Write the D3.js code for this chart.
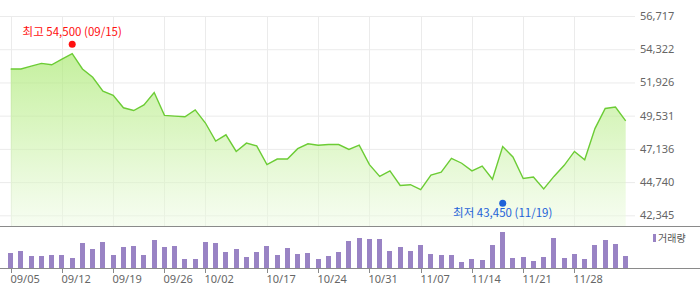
<!DOCTYPE html>
<html><head><meta charset="utf-8">
<script src="https://cdn.jsdelivr.net/npm/d3@7"></script>
<style>
html,body{margin:0;padding:0;background:#fff;}
svg{display:block;font-family:"Noto Sans","Noto Sans CJK KR",sans-serif;}
</style></head>
<body><svg id="c" width="700" height="289"></svg>
<script>
const dates = ["09/05","09/08","09/09","09/10","09/11","09/12","09/15","09/16","09/17","09/18","09/19","09/22","09/23","09/24","09/25","09/26","09/29","09/30","10/01","10/02","10/10","10/13","10/14","10/15","10/16","10/17","10/20","10/21","10/22","10/23","10/24","10/27","10/28","10/29","10/30","10/31","11/03","11/04","11/05","11/06","11/07","11/10","11/11","11/12","11/13","11/14","11/17","11/18","11/19","11/20","11/21","11/24","11/25","11/26","11/27","11/28","12/01","12/02","12/03","12/04","12/05"];
const closes = [52900,52900,53100,53300,53200,53600,54000,52900,52300,51300,51000,50100,49900,50300,51200,49550,49500,49450,49950,49000,47700,48150,46950,47550,47350,46000,46400,46400,47150,47500,47400,47450,47450,47100,47400,46000,45150,45550,44500,44550,44200,45250,45450,46450,46100,45550,45900,44950,47300,46550,45000,45100,44250,45150,45950,46950,46350,48600,50050,50150,49150];
const volumes = [150,170,120,120,130,130,100,250,190,260,130,210,220,130,280,210,220,90,90,260,250,160,190,110,160,220,130,200,140,150,90,120,160,270,300,290,290,170,210,170,230,140,130,130,60,90,80,230,360,100,110,70,110,300,100,140,90,230,280,240,120];
const xTickLabels = ["09/05","09/12","09/19","09/26","10/02","10/17","10/24","10/31","11/07","11/14","11/21","11/28"];
const yTickValues = [56717,54322,51926,49531,47136,44740,42345];
const high = {date:"09/15", value:54500, label:"최고 54,500 (09/15)"};
const low = {date:"11/19", value:43450, label:"최저 43,450 (11/19)"};
const volumeLabel = "거래량";

const svg = d3.select("#c");
const x = d3.scalePoint().domain(dates).range([10.7, 625.7]);
const y = d3.scaleLinear().domain([41574, 56717]).range([226, 16]);
const yv = d3.scaleLinear().domain([0, 400]).range([268, 228]);

// gradient
const defs = svg.append("defs");
const g = defs.append("linearGradient").attr("id","gf").attr("gradientUnits","userSpaceOnUse")
  .attr("x1",0).attr("x2",0).attr("y1",y(56717)).attr("y2",226);
g.append("stop").attr("offset","0").attr("stop-color","#9fe660").attr("stop-opacity",0.75);
g.append("stop").attr("offset","0.55").attr("stop-color","#c4f09c").attr("stop-opacity",0.6);
g.append("stop").attr("offset","1").attr("stop-color","#eefbe3").attr("stop-opacity",0.5);

// horizontal grid
svg.append("g").selectAll("line").data(yTickValues).join("line")
  .attr("x1",0).attr("x2",635).attr("y1",d=>y(d)+0.5).attr("y2",d=>y(d)+0.5)
  .attr("stroke","#ebebeb").attr("stroke-width",1);
// vertical grid
svg.append("g").selectAll("line").data(xTickLabels).join("line")
  .attr("x1",d=>Math.round(x(d))+0.5).attr("x2",d=>Math.round(x(d))+0.5).attr("y1",16).attr("y2",226)
  .attr("stroke","#ebebeb").attr("stroke-width",1);

// area
const area = d3.area().x((d,i)=>x(dates[i])).y0(226).y1(d=>y(d));
svg.append("path").datum(closes).attr("d",area).attr("fill","url(#gf)");
const line = d3.line().x((d,i)=>x(dates[i])).y(d=>y(d));
svg.append("path").datum(closes).attr("d",line).attr("fill","none").attr("stroke","#6ccc35").attr("stroke-width",1.4);

// y labels
svg.append("g").selectAll("text").data(yTickValues).join("text")
  .attr("x",640).attr("y",d=>y(d)+1).attr("dominant-baseline","middle")
  .attr("font-size",11).attr("fill","#666").text(d=>d3.format(",")(d));

// axis lines
svg.append("line").attr("x1",0).attr("x2",700).attr("y1",226.5).attr("y2",226.5).attr("stroke","#8a8a8a");
svg.append("line").attr("x1",0).attr("x2",700).attr("y1",268.5).attr("y2",268.5).attr("stroke","#8a8a8a");

// volume bars
svg.append("g").selectAll("rect").data(volumes).join("rect")
  .attr("x",(d,i)=>Math.round(x(dates[i])-2.5)).attr("width",5)
  .attr("y",d=>yv(d)).attr("height",d=>268-yv(d)).attr("fill","#9983c4");

// x ticks
const xt = svg.append("g").selectAll("g").data(xTickLabels).join("g")
  .attr("transform",d=>`translate(${Math.round(x(d))+0.5},0)`);
xt.append("line").attr("y1",269).attr("y2",273).attr("stroke","#8a8a8a");
xt.append("text").attr("x",-1).attr("y",283).attr("font-size",11).attr("fill","#666").text(d=>d);

// legend
svg.append("rect").attr("x",653).attr("y",234).attr("width",3).attr("height",8).attr("fill","#9983c4");
svg.append("text").attr("x",658).attr("y",242).attr("font-size",10).attr("fill","#555").attr("font-family","Noto Sans CJK KR").text(volumeLabel);

// high/low markers
svg.append("circle").attr("cx",x(high.date)).attr("cy",y(high.value)-2.4).attr("r",3.5).attr("fill","#ff1010");
svg.append("text").attr("x",x(high.date)).attr("y",y(high.value)-10.5).attr("text-anchor","middle")
  .attr("font-size",11.5).attr("fill","#ff1010").attr("font-family","Noto Sans CJK KR").text(high.label);
svg.append("circle").attr("cx",x(low.date)).attr("cy",y(low.value)+3.3).attr("r",3.5).attr("fill","#1f63d8");
svg.append("text").attr("x",x(low.date)).attr("y",y(low.value)+16.7).attr("text-anchor","middle")
  .attr("font-size",11.5).attr("fill","#1f63d8").attr("font-family","Noto Sans CJK KR").text(low.label);
</script></body></html>
